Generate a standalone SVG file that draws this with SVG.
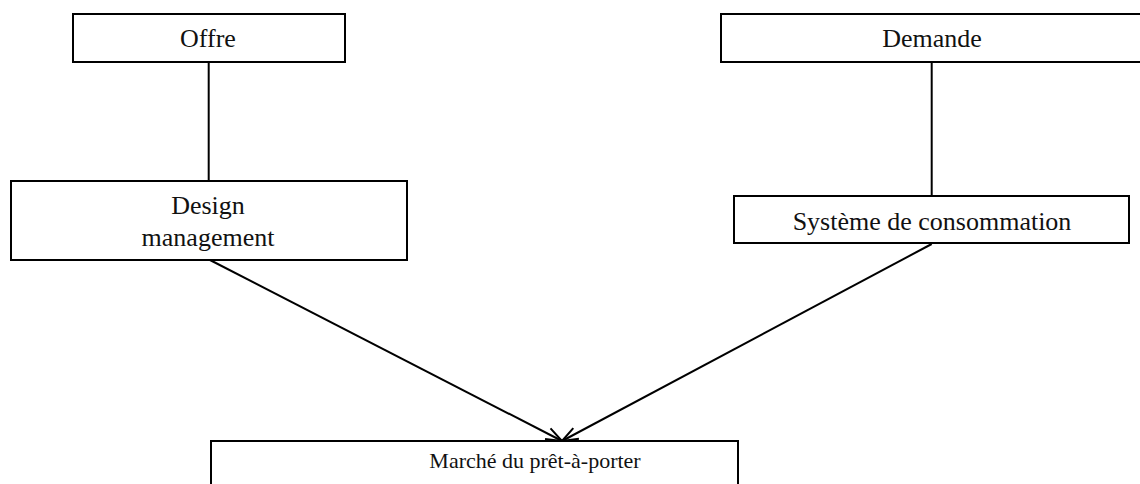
<svg xmlns="http://www.w3.org/2000/svg" width="1140" height="484" viewBox="0 0 1140 484">
<style>
.box{fill:#fff;stroke:#000;stroke-width:2}
.t{font-family:"Liberation Serif","Times New Roman",serif;font-size:26px;fill:#111;text-anchor:middle}
.s{font-size:22px}
.c{stroke:#000;stroke-width:2;fill:none}
</style>
<defs>
<marker id="arr" markerUnits="userSpaceOnUse" markerWidth="20" markerHeight="16" viewBox="0 0 20 16" refX="18" refY="8" orient="auto">
<path d="M2,2 L18,8 L2,14" fill="none" stroke="#000" stroke-width="2"/>
</marker>
</defs>
<rect width="1140" height="484" fill="#fff"/>
<g id="connectors">
<line class="c" x1="208.7" y1="62" x2="208.7" y2="181"/>
<line class="c" x1="931.7" y1="62" x2="931.7" y2="196"/>
<line class="c" x1="210" y1="260" x2="562" y2="441" marker-end="url(#arr)"/>
<line class="c" x1="931.7" y1="244" x2="562" y2="441" marker-end="url(#arr)"/>
</g>
<g id="offre">
<rect class="box" x="73" y="14" width="272" height="48"/>
<text class="t" x="208" y="47">Offre</text>
</g>
<g id="demande">
<rect class="box" x="721" y="14" width="422" height="48"/>
<text class="t" x="932" y="47">Demande</text>
</g>
<g id="design">
<rect class="box" x="11" y="181" width="396" height="79"/>
<text class="t" x="208" y="214">Design</text>
<text class="t" x="208" y="246">management</text>
</g>
<g id="systeme">
<rect class="box" x="734" y="196" width="395" height="47"/>
<text class="t" x="932" y="230">Système de consommation</text>
</g>
<g id="marche">
<rect class="box" x="211" y="441" width="527" height="60"/>
<text class="t s" x="535" y="468">Marché du prêt-à-porter</text>
</g>
</svg>
